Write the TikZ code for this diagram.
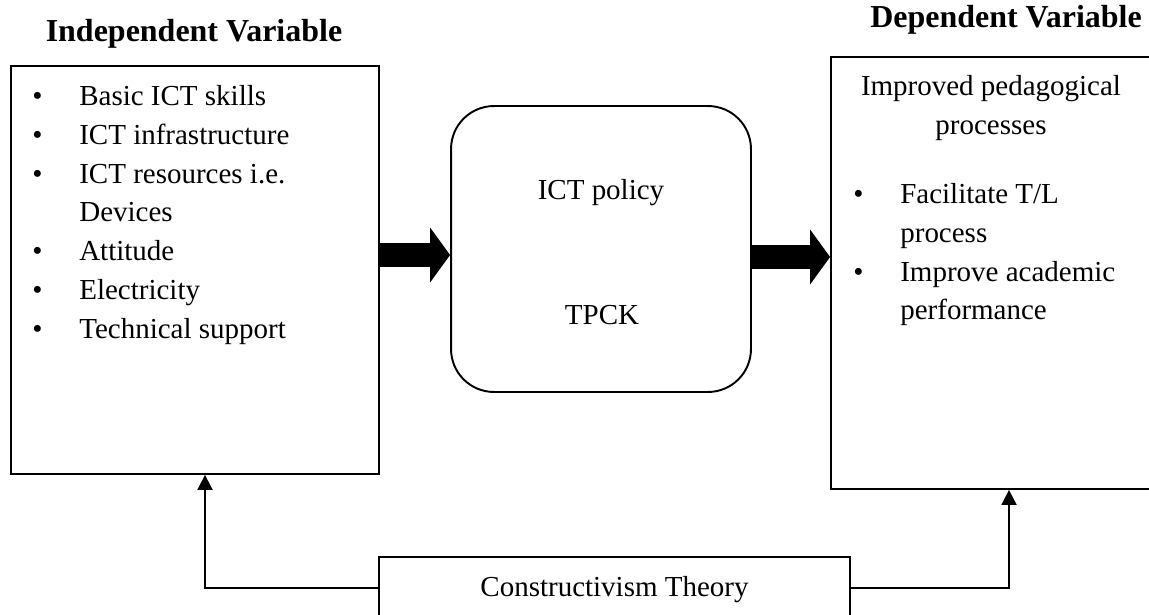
\documentclass[tikz,border=0pt]{standalone}
\usepackage{fontspec}
\setmainfont{Liberation Serif}
\usetikzlibrary{arrows,arrows.meta,positioning}

\tikzset{
  box/.style={draw,line width=1.1pt,inner sep=0pt},
  txt/.style={inner sep=0pt,font=\fontsize{16.5}{22.1}\selectfont},
  head/.style={inner sep=0pt,font=\fontsize{18.2}{22}\selectfont\bfseries},
  fat/.style={line width=0.5cm,-{Triangle[length=0.4cm,width=1.1cm,line width=0pt]}},
}
\newcommand{\itm}{\makebox[0.94cm][l]{\textbullet}}

\begin{document}
\begin{tikzpicture}[x=0.02cm,y=-0.02cm,>={Triangle[length=0.3cm,width=0.3cm]}]
  \useasboundingbox (0,0) rectangle (1149,615);
  % Boxes
  \node[box,minimum width=7.36cm,minimum height=8.16cm] (indep) at (195,270) {};
  \node[box,rounded corners=0.86cm,minimum width=6cm,minimum height=5.72cm] (mid) at (601,249) {};
  \node[box,minimum width=6.4cm,minimum height=8.64cm] (dep) at (991,273) {};
  \node[box,txt,minimum width=9.42cm,minimum height=1.32cm] (theory) at (614.5,590) {Constructivism Theory};
  % Headings
  \node[head] (indephead) at (194,34) {Independent Variable};
  \node[head] (dephead) at (1006,20) {Dependent Variable};
  % Texts
  \node[txt,align=left,anchor=north west] (indeplist) at (32,85)
    {\itm Basic ICT skills\\ \itm ICT infrastructure\\ \itm ICT resources i.e.\\
     \hspace*{0.94cm}Devices\\ \itm Attitude\\ \itm Electricity\\ \itm Technical support};
  \node[txt] (policy) at (601,193) {ICT policy};
  \node[txt] (tpck) at (602,315) {TPCK};
  \node[txt,align=center,anchor=north] (depname) at (991,75) {Improved pedagogical\\processes};
  \node[txt,align=left,anchor=north west] (deplist) at (853,183)
    {\itm Facilitate T/L\\ \hspace*{0.94cm}process\\ \itm Improve academic\\
     \hspace*{0.94cm}performance};
  % Edges
  \coordinate (row1) at (0,255);
  \coordinate (row2) at (0,257);
  \draw[fat] (indep.east |- row1) -- (mid.west |- row1);
  \draw[fat] (mid.east |- row2) -- (dep.west |- row2);
  \draw[->,line width=1.1pt] (theory.west |- 0,588) -| ([xshift=0.2cm]indep.south);
  \draw[->,line width=1.1pt] (theory.east |- 0,588) -| ([xshift=0.36cm]dep.south);
\end{tikzpicture}
\end{document}
